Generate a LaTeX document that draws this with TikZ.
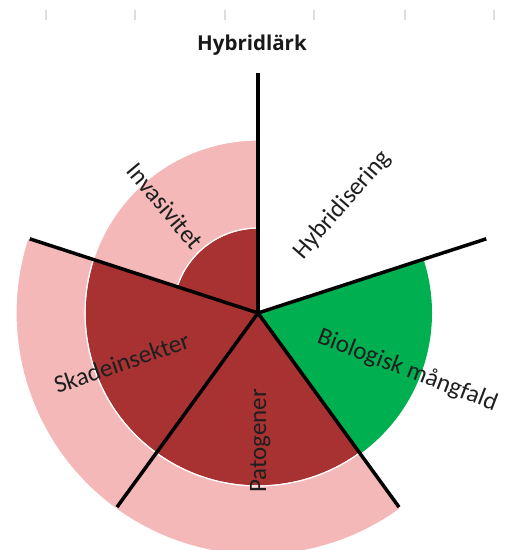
\documentclass[tikz,border=0pt]{standalone}
\usepackage{fontspec}
\setmainfont{Carlito}
\newfontfamily\titlefont{Open Sans}
\usetikzlibrary{positioning}
\definecolor{darkred}{RGB}{168,50,50}
\definecolor{lightred}{RGB}{245,184,184}
\definecolor{biogreen}{RGB}{0,176,80}
\definecolor{tickgray}{RGB}{220,220,220}
\tikzstyle{spoke} = [line width=3.5pt, black]
\tikzstyle{wedge} = [draw=white, line width=1.2pt]
\tikzstyle{sectorlabel} = [font=\fontsize{25}{30}\selectfont, text=black!88, inner sep=0pt]
\tikzstyle{charttitle} = [font=\titlefont\bfseries\fontsize{20.5}{24}\selectfont, text=black!90, inner sep=0pt]

\begin{document}
\begin{tikzpicture}[x=1pt, y=1pt]
		\useasboundingbox (0,0) rectangle (509,550);
		\clip (0,0) rectangle (509,550);
		
		% faint ticks along the top
		\foreach \tx in {46,135,225,314,405,494}
			\draw[tickgray, line width=1.2pt] (\tx,530) -- (\tx,540);
		
		\node (title) [charttitle] at (252,505) {Hybridlärk};
		
		\begin{scope}[shift={(258,237)}]
			% Invasivitet
			\filldraw[darkred, wedge] (0,0) -- (90:85) arc[start angle=90, end angle=162, radius=85] -- cycle;
			\filldraw[lightred, wedge] (90:85) arc[start angle=90, end angle=162, radius=85] -- (162:173) arc[start angle=162, end angle=90, radius=173] -- cycle;
			% Skadeinsekter
			\filldraw[darkred, wedge] (0,0) -- (162:173) arc[start angle=162, end angle=234, radius=173] -- cycle;
			\filldraw[lightred, wedge] (162:173) arc[start angle=162, end angle=234, radius=173] -- (234:242) arc[start angle=234, end angle=162, radius=242] -- cycle;
			% Patogener
			\filldraw[darkred, wedge] (0,0) -- (234:173) arc[start angle=234, end angle=306, radius=173] -- cycle;
			\filldraw[lightred, wedge] (234:173) arc[start angle=234, end angle=306, radius=173] -- (306:242) arc[start angle=306, end angle=234, radius=242] -- cycle;
			% Biologisk mångfald
			\fill[biogreen] (0,0) -- (-54:174) arc[start angle=-54, end angle=18, radius=174] -- cycle;
			
			% spokes
			\foreach \a in {90,18,-54,-126,162}
				\draw[spoke] (0,0) -- (\a:240);
			
			\node (hybrid) [sectorlabel, rotate=49] at (52:137) {Hybridisering};
			\node (biodiv) [sectorlabel, rotate=-21] at (-21:160) {Biologisk mångfald};
			\node (patogen) [sectorlabel, rotate=90] at (-89:128) {Patogener};
			\node (skade) [sectorlabel, rotate=19] at (200:145) {Skadeinsekter};
			\node (invasiv) [sectorlabel, rotate=-50] at (131:142) {Invasivitet};
		\end{scope}
	\end{tikzpicture}
\end{document}
